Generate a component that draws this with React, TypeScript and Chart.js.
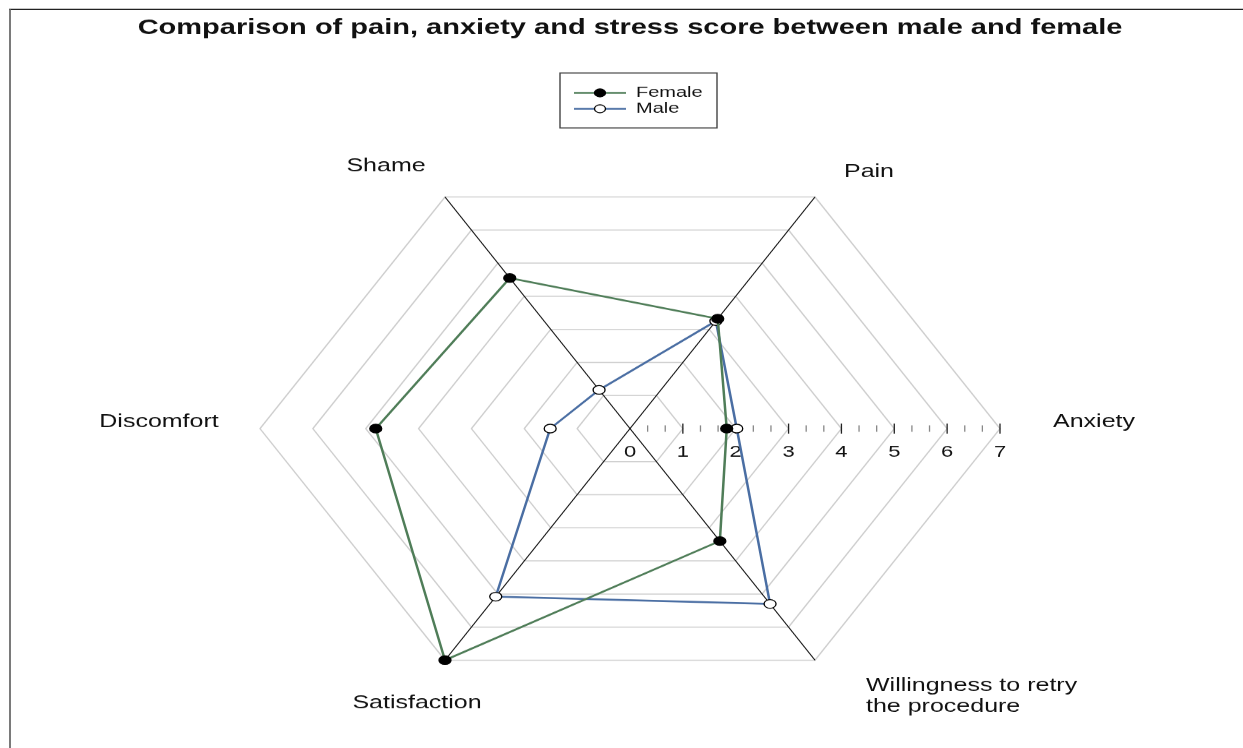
import React, { useEffect, useRef } from "react";
import { Chart, registerables } from "chart.js";

Chart.register(...registerables);

// ---- data ----
const categories: (string | string[])[] = [
  "Anxiety",
  ["Willingness to retry", "the procedure"],
  "Satisfaction",
  "Discomfort",
  "Shame",
  "Pain",
];
const femaleValues = [1.83, 3.4, 7.0, 4.81, 4.55, 3.32];
const maleValues = [2.02, 5.3, 5.08, 1.51, 1.17, 3.25];
const tickLabels = ["0", "1", "2", "3", "4", "5", "6", "7"];
const seriesNames = ["Female", "Male"];
const titleText = "Comparison of pain, anxiety and stress score between male and female";

// ---- style ----
const W = 1243;
const SY = 0.7227; // vertical squash of the whole figure
const H = Math.round(748 / SY);
const FEMALE_COLOR = "#4f7d58";
const MALE_COLOR = "#4a6ea3";
const FONT = "'Liberation Sans', Arial, sans-serif";
// label anchor offsets from the centre, in px at radius 370
const LABEL_OFFSETS: [number, number, CanvasTextAlign][] = [
  [464, -9, "center"],
  [236, 356, "left"],
  [-213, 380, "center"],
  [-471, -9, "center"],
  [-244, -363, "center"],
  [239, -355, "center"],
];

const decorPlugin = {
  id: "decor",
  beforeDraw(chart: any) {
    const ctx = chart.ctx;
    ctx.save();
    ctx.fillStyle = "#ffffff";
    ctx.fillRect(0, 0, chart.width, chart.height);
    ctx.restore();
  },
  beforeDatasetsDraw(chart: any) {
    const ctx = chart.ctx;
    const s = chart.scales.r;
    const cx = s.xCenter;
    const cy = s.yCenter;
    ctx.save();
    const maxV = Number(tickLabels[tickLabels.length - 1]);
    for (let k = 1; k <= maxV * 3; k++) {
      const v = k / 3;
      const x = cx + s.getDistanceFromCenterForValue(v);
      const major = k % 3 === 0;
      const half = major ? 7 : 4.5;
      ctx.strokeStyle = major ? "#222" : "#888";
      ctx.lineWidth = 1.3;
      ctx.beginPath();
      ctx.moveTo(x, cy - half);
      ctx.lineTo(x, cy + half);
      ctx.stroke();
    }
    ctx.fillStyle = "#111";
    ctx.font = `22px ${FONT}`;
    ctx.textAlign = "center";
    ctx.textBaseline = "middle";
    tickLabels.forEach((t) => {
      const x = cx + s.getDistanceFromCenterForValue(Number(t));
      ctx.fillText(t, x, cy + 32.5);
    });
    ctx.restore();
  },
  afterDraw(chart: any) {
    const ctx = chart.ctx;
    const s = chart.scales.r;
    const cx = s.xCenter;
    const cy = s.yCenter;
    const k = s.drawingArea / 370;
    ctx.save();
    // title
    ctx.fillStyle = "#111";
    ctx.font = `bold 29px ${FONT}`;
    ctx.textAlign = "center";
    ctx.textBaseline = "middle";
    ctx.fillText(titleText, 630, 38.7);
    // point labels
    ctx.fillStyle = "#111";
    ctx.font = `25px ${FONT}`;
    ctx.textBaseline = "middle";
    categories.forEach((c, i) => {
      const [dx, dy, align] = LABEL_OFFSETS[i];
      ctx.textAlign = align;
      const lines = Array.isArray(c) ? c : [c];
      lines.forEach((ln, j) => {
        ctx.fillText(ln, cx + dx * k, cy + dy * k + j * 29);
      });
    });
    // legend
    const lx = 560, ly = 101, lw = 157, lh = 76;
    ctx.strokeStyle = "#444";
    ctx.lineWidth = 1.4;
    ctx.strokeRect(lx, ly, lw, lh);
    const rows = [
      { name: seriesNames[0], color: FEMALE_COLOR, fill: "#000", y: 128.5 },
      { name: seriesNames[1], color: MALE_COLOR, fill: "#fff", y: 150.5 },
    ];
    rows.forEach((r) => {
      ctx.strokeStyle = r.color;
      ctx.lineWidth = 2.5;
      ctx.beginPath();
      ctx.moveTo(574, r.y);
      ctx.lineTo(626, r.y);
      ctx.stroke();
      ctx.beginPath();
      ctx.arc(600, r.y, 5.5, 0, Math.PI * 2);
      ctx.fillStyle = r.fill;
      ctx.fill();
      ctx.strokeStyle = "#000";
      ctx.lineWidth = 1.3;
      ctx.stroke();
      ctx.fillStyle = "#111";
      ctx.font = `20px ${FONT}`;
      ctx.textAlign = "left";
      ctx.textBaseline = "middle";
      ctx.fillText(r.name, 636, r.y);
    });
    // frame
    ctx.strokeStyle = "#222";
    ctx.lineWidth = 2;
    ctx.beginPath();
    ctx.moveTo(9, 13);
    ctx.lineTo(W, 13);
    ctx.stroke();
    ctx.strokeStyle = "#7a7a7a";
    ctx.lineWidth = 2;
    ctx.beginPath();
    ctx.moveTo(10, 13);
    ctx.lineTo(10, H);
    ctx.stroke();
    ctx.restore();
  },
};

export default function App() {
  const ref = useRef<HTMLCanvasElement | null>(null);
  useEffect(() => {
    document.body.style.margin = "0";
    const canvas = ref.current!;
    const chart = new Chart(canvas, {
      type: "radar",
      data: {
        labels: categories as any,
        datasets: [
          {
            label: seriesNames[0],
            data: femaleValues,
            borderColor: FEMALE_COLOR,
            borderWidth: 2.5,
            backgroundColor: "transparent",
            fill: false,
            pointRadius: 6,
            pointBackgroundColor: "#000",
            pointBorderColor: "#000",
            pointBorderWidth: 1.3,
          },
          {
            label: seriesNames[1],
            data: maleValues,
            borderColor: MALE_COLOR,
            borderWidth: 2.5,
            backgroundColor: "transparent",
            fill: false,
            pointRadius: 6,
            pointBackgroundColor: "#fff",
            pointBorderColor: "#000",
            pointBorderWidth: 1.3,
          },
        ],
      },
      options: {
        responsive: false,
        animation: false,
        events: [],
        layout: { padding: { left: 260, right: 243, top: 223, bottom: 72 } },
        plugins: {
          legend: { display: false },
          tooltip: { enabled: false },
          title: { display: false },
        },
        scales: {
          r: {
            min: 0,
            max: 7,
            startAngle: 90,
            ticks: { display: false, stepSize: 1 },
            pointLabels: { display: false },
            grid: { color: "#cfcfcf", lineWidth: 1.5 },
            angleLines: {
              color: (c: any) => (c.index % 3 === 0 ? "rgba(0,0,0,0)" : "#111"),
              lineWidth: 1.2,
            },
          },
        },
      },
      plugins: [decorPlugin],
    });
    return () => chart.destroy();
  }, []);
  return (
    <div style={{ position: "absolute", left: 0, top: 0, width: W, height: 748, overflow: "hidden", background: "#fff" }}>
      <div style={{ width: W, height: H, transform: `scaleY(${SY})`, transformOrigin: "0 0" }}>
        <canvas ref={ref} width={W} height={H} style={{ width: W, height: H, display: "block" }} />
      </div>
    </div>
  );
}
